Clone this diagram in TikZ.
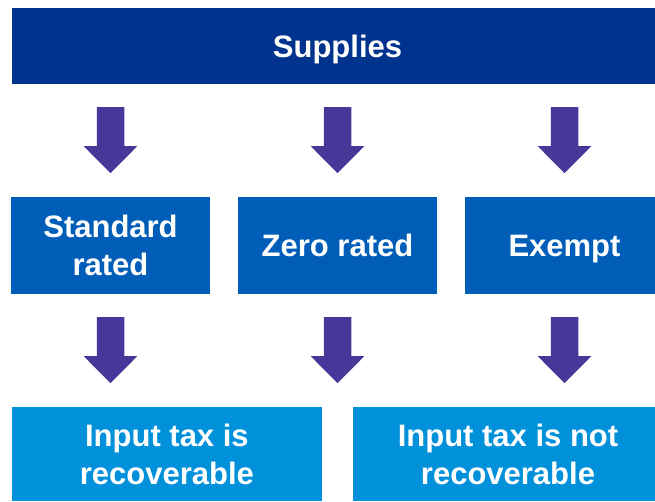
\documentclass[tikz,border=0pt]{standalone}
\usepackage{fontspec}
\setmainfont{Liberation Sans}
\usetikzlibrary{calc}
\definecolor{kdark}{HTML}{00338D}
\definecolor{kmid}{HTML}{005EB8}
\definecolor{klight}{HTML}{0091DA}
\definecolor{kpurple}{HTML}{483698}
\tikzset{
  box/.style={rectangle, inner sep=0pt, text=white, align=center, text depth=0pt,
    font=\bfseries\fontsize{31}{38}\selectfont},
  blockarrow/.pic={\fill[kpurple] (-13.75,0) -- (13.75,0) -- (13.75,39) -- (26.75,39)
     -- (0,66) -- (-26.75,39) -- (-13.75,39) -- cycle;}
}
\begin{document}
\begin{tikzpicture}[x=1pt,y=-1pt]
\useasboundingbox (0,0) rectangle (655,501);
\node[box, fill=kdark, minimum width=652pt, minimum height=76pt] (sup) at (337.5,46) {Supplies};
\node[box, fill=kmid, minimum width=199pt, minimum height=97pt] (std) at (110.5,245.5) {Standard\\rated};
\node[box, fill=kmid, minimum width=199pt, minimum height=97pt] (zero) at (337.5,245.5) {Zero rated};
\node[box, fill=kmid, minimum width=199pt, minimum height=97pt] (exe) at (564.5,245.5) {Exempt};
\node[box, fill=klight, minimum width=309.5pt, minimum height=94pt] (rec) at (166.9,454) {Input tax is\\recoverable};
\node[box, fill=klight, minimum width=310pt, minimum height=94pt] (nrec) at (508,454) {Input tax is not\\recoverable};
\pic at ($(std.north |- sup.south)+(0,23)$) {blockarrow};
\pic at ($(zero.north |- sup.south)+(0,23)$) {blockarrow};
\pic at ($(exe.north |- sup.south)+(0,23)$) {blockarrow};
\pic at ($(std.south)+(0,23)$) {blockarrow};
\pic at ($(zero.south)+(0,23)$) {blockarrow};
\pic at ($(exe.south)+(0,23)$) {blockarrow};
\end{tikzpicture}
\end{document}
